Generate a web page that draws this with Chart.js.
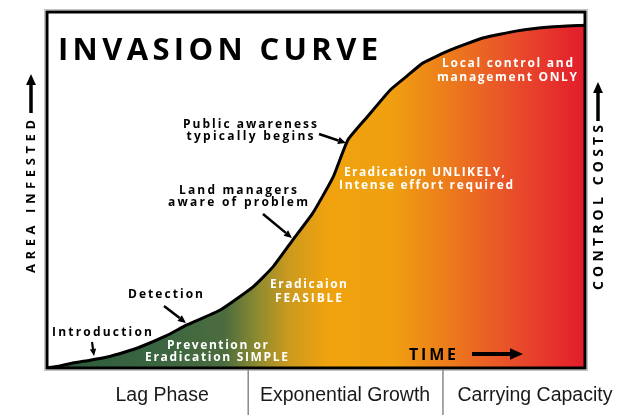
<!DOCTYPE html>
<html>
<head>
<meta charset="utf-8">
<script src="https://cdn.jsdelivr.net/npm/chart.js@4"></script>
<style>
  html, body { margin: 0; padding: 0; background: #fff; }
  #wrap { width: 630px; height: 415px; position: relative; }
</style>
</head>
<body>
<div id="wrap"><canvas id="curve"></canvas></div>
<script>
// curve: time (0-100) vs area infested (0-100)
const timeValues = [0, 2.4, 4.8, 8.0, 11.2, 14.5, 17.3, 22.1, 26.0, 32.2, 38.3, 42.0, 45.7, 49.4, 53.2, 55.9, 59.5, 63.8, 66.9, 69.9, 74.9, 81.0, 87.4, 93.5, 100];
const areaValues = [0, 0.6, 1.4, 2.2, 3.1, 4.5, 5.9, 9.0, 12.1, 16.3, 22.8, 28.4, 36.0, 43.5, 53.7, 64.0, 70.5, 78.1, 82.0, 85.7, 89.3, 92.7, 94.7, 95.8, 96.3];

const phaseLabels = ['Lag Phase', 'Exponential Growth', 'Carrying Capacity'];
const phaseCenters = [21.4, 55.4, 90.7];   // time
const phaseBreaks = [37.4, 73.6];          // time

// text stretched to a width by spreading the letters
function spacedText(ctx, text, x, y, width) {
    const chars = [...text];
    const widths = chars.map(c => ctx.measureText(c).width);
    const natural = widths.reduce((a, b) => a + b, 0);
    const gap = chars.length > 1 ? (width - natural) / (chars.length - 1) : 0;
    let cx = x;
    chars.forEach((c, i) => {
        ctx.fillText(c, cx, y);
        cx += widths[i] + gap;
    });
}

function centeredText(ctx, text, cx, cy, width) {
    spacedText(ctx, text, cx - width / 2, cy, width);
}

function arrow(ctx, x1, y1, x2, y2, head, lw) {
    const a = Math.atan2(y2 - y1, x2 - x1);
    const bx = x2 - head * Math.cos(a), by = y2 - head * Math.sin(a);
    ctx.beginPath();
    ctx.moveTo(x1, y1);
    ctx.lineTo(bx, by);
    ctx.lineWidth = lw;
    ctx.stroke();
    ctx.beginPath();
    ctx.moveTo(x2, y2);
    ctx.lineTo(bx + head * 0.45 * Math.sin(a), by - head * 0.45 * Math.cos(a));
    ctx.lineTo(bx - head * 0.45 * Math.sin(a), by + head * 0.45 * Math.cos(a));
    ctx.closePath();
    ctx.fill();
}

function fillGradient(context) {
    const chart = context.chart;
    const area = chart.chartArea;
    if (!area) return '#f0a010';
    const g = chart.ctx.createLinearGradient(area.left, 0, area.right, 0);
    g.addColorStop(0, '#2c5a3c');
    g.addColorStop(0.2, '#3a6541');
    g.addColorStop(0.33, '#4c6c3e');
    g.addColorStop(0.39, '#8c8a30');
    g.addColorStop(0.45, '#cc9a1e');
    g.addColorStop(0.52, '#f0a20e');
    g.addColorStop(0.64, '#f0a010');
    g.addColorStop(0.75, '#ec7a1c');
    g.addColorStop(0.86, '#e9502a');
    g.addColorStop(1, '#e31c2c');
    return g;
}

const blackNotes = [
    ['Public awareness', 250, 125, 134],
    ['typically begins', 250, 137, 127],
    ['Land managers', 238, 191, 118],
    ['aware of problem', 238, 203, 140],
    ['Detection', 165.5, 295, 75],
    ['Introduction', 102, 333, 100]
];
const whiteNotes = [
    ['Prevention or', 217.5, 346, 101],
    ['Eradication SIMPLE', 216.5, 358, 143],
    ['Eradicaion', 308.5, 285, 77],
    ['FEASIBLE', 308.5, 299, 67],
    ['Eradication UNLIKELY,', 424.5, 173, 161],
    ['Intense effort required', 426, 186, 174],
    ['Local control and', 507.5, 64, 131],
    ['management ONLY', 507, 78, 140]
];

const decorations = {
    id: 'decorations',
    afterDatasetsDraw(chart) {
        const { ctx, chartArea: a, scales } = chart;
        ctx.save();
        // frame
        ctx.strokeStyle = '#c4c4c4';
        ctx.lineWidth = 1;
        ctx.strokeRect(a.left - 2.5, a.top - 2.5, a.right - a.left + 5, a.bottom - a.top + 5);
        ctx.strokeStyle = '#000';
        ctx.lineWidth = 3;
        ctx.strokeRect(a.left, a.top, a.right - a.left, a.bottom - a.top);

        // phase band
        ctx.strokeStyle = '#8a8a8a';
        ctx.lineWidth = 1.5;
        phaseBreaks.forEach(t => {
            const x = scales.x.getPixelForValue(t);
            ctx.beginPath();
            ctx.moveTo(x, a.bottom + 2);
            ctx.lineTo(x, 415);
            ctx.stroke();
        });
        ctx.fillStyle = '#1a1a1a';
        ctx.font = '19.5px "Liberation Sans", Arial, sans-serif';
        ctx.textAlign = 'center';
        ctx.textBaseline = 'alphabetic';
        phaseLabels.forEach((p, i) => {
            ctx.fillText(p, scales.x.getPixelForValue(phaseCenters[i]), 401);
        });

        ctx.textAlign = 'left';
        // title
        ctx.fillStyle = '#000';
        ctx.font = 'bold 31px "Open Sans", sans-serif';
        spacedText(ctx, 'INVASION CURVE', 58, 60, 320);

        // notes
        ctx.textBaseline = 'middle';
        ctx.font = 'bold 12px "Open Sans", sans-serif';
        blackNotes.forEach(n => centeredText(ctx, n[0], n[1], n[2], n[3]));
        ctx.fillStyle = '#fff';
        whiteNotes.forEach(n => centeredText(ctx, n[0], n[1], n[2], n[3]));

        ctx.fillStyle = '#000';
        ctx.strokeStyle = '#000';
        ctx.lineCap = 'butt';
        arrow(ctx, 319, 134, 346, 143, 8, 2.5);
        arrow(ctx, 263, 214, 292, 238, 8, 2.5);
        arrow(ctx, 164, 306, 186, 323, 8, 2.5);
        arrow(ctx, 92, 342, 94, 356, 7, 2.2);

        // TIME
        ctx.textBaseline = 'alphabetic';
        ctx.font = 'bold 16px "Open Sans", sans-serif';
        spacedText(ctx, 'TIME', 409, 360, 47);
        arrow(ctx, 472, 354, 523, 354, 13, 4);

        // side labels
        ctx.font = 'bold 13px "Open Sans", sans-serif';
        ctx.save();
        ctx.translate(35, 196.5);
        ctx.rotate(-Math.PI / 2);
        centeredText(ctx, 'AREA INFESTED', 0, 0, 153);
        ctx.restore();
        arrow(ctx, 31, 113, 31, 74, 11, 3.5);

        ctx.font = 'bold 14px "Open Sans", sans-serif';
        ctx.save();
        ctx.translate(603, 207.5);
        ctx.rotate(-Math.PI / 2);
        centeredText(ctx, 'CONTROL COSTS', 0, 0, 165);
        ctx.restore();
        arrow(ctx, 598, 121, 598, 82, 11, 3.5);

        ctx.restore();
    }
};

new Chart(document.getElementById('curve'), {
    type: 'line',
    data: {
        datasets: [{
            data: timeValues.map((t, i) => ({ x: t, y: areaValues[i] })),
            borderColor: '#000',
            borderWidth: 3,
            backgroundColor: fillGradient,
            fill: 'origin',
            pointRadius: 0,
            tension: 0.15,
            borderJoinStyle: 'round'
        }]
    },
    options: {
        responsive: true,
        maintainAspectRatio: false,
        animation: false,
        devicePixelRatio: 1,
        layout: { padding: { left: 47, right: 45, top: 12, bottom: 47 } },
        plugins: { legend: { display: false }, tooltip: { enabled: false } },
        scales: {
            x: { type: 'linear', min: 0, max: 100, display: false },
            y: { min: 0, max: 100, display: false }
        }
    },
    plugins: [decorations]
});
</script>
</body>
</html>
